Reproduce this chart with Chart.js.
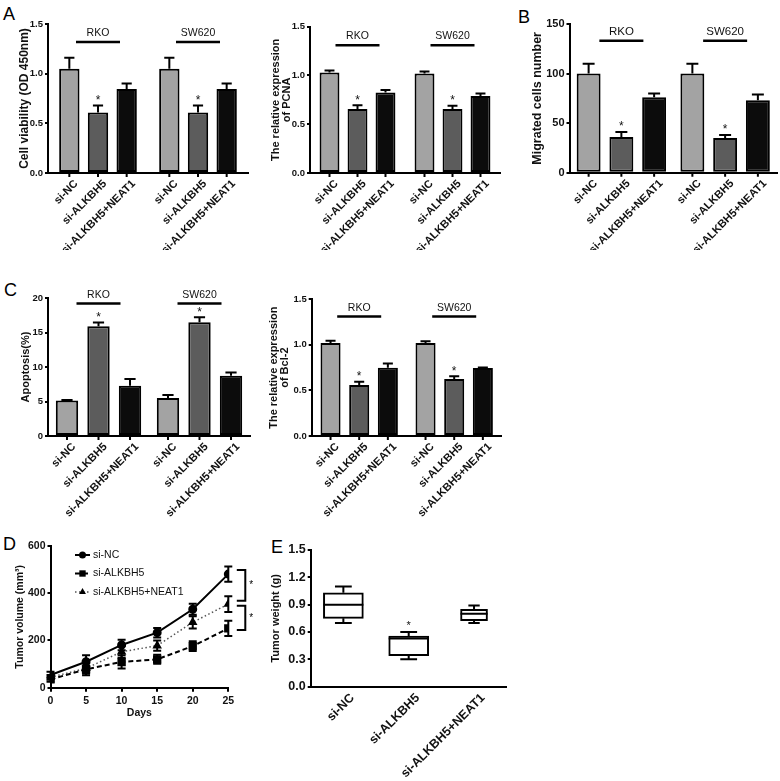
<!DOCTYPE html>
<html>
<head>
<meta charset="utf-8">
<title>ALKBH5 / NEAT1</title>
<script src="https://cdn.jsdelivr.net/npm/chart.js@4.4.1/dist/chart.umd.min.js"></script>
<style>
  body { margin: 0; background: #fff; }
  #fig { position: relative; width: 780px; height: 781px; overflow: hidden; background: #fff; }
  #fig canvas { position: absolute; }
  .tag { position: absolute; font: 18px "Liberation Sans", Arial, sans-serif; line-height: 18px; color: #000; }
</style>
</head>
<body>
<div id="fig">
  <div class="tag" style="left:3px;top:5px">A</div>
  <div class="tag" style="left:518px;top:8px">B</div>
  <div class="tag" style="left:4px;top:281px">C</div>
  <div class="tag" style="left:3px;top:535px">D</div>
  <div class="tag" style="left:271px;top:538px">E</div>
  <canvas id="viability" width="262" height="250" style="left:0;top:0"></canvas>
  <canvas id="pcna" width="262" height="250" style="left:262px;top:0"></canvas>
  <canvas id="migration" width="256" height="250" style="left:524px;top:0"></canvas>
  <canvas id="apoptosis" width="262" height="258" style="left:0;top:262px"></canvas>
  <canvas id="bcl2" width="262" height="258" style="left:262px;top:262px"></canvas>
  <canvas id="volume" width="262" height="251" style="left:0;top:530px"></canvas>
  <canvas id="weight" width="262" height="251" style="left:262px;top:530px"></canvas>
</div>
<script>
'use strict';

var WIDE = '"Liberation Sans", Arial, Helvetica, sans-serif';

// ---- data ----
var cellLines = ['RKO', 'SW620'];
var groups = ['si-NC', 'si-ALKBH5', 'si-ALKBH5+NEAT1'];
var starredGroup = 1; // * : si-ALKBH5 vs si-NC

// order: RKO (NC, ALKBH5, +NEAT1), SW620 (NC, ALKBH5, +NEAT1)
var viabilityMean = [1.05, 0.61, 0.845, 1.05, 0.61, 0.845];
var viabilitySD = [0.11, 0.07, 0.055, 0.11, 0.07, 0.055];
var pcnaMean = [1.03, 0.655, 0.825, 1.02, 0.655, 0.79];
var pcnaSD = [0.02, 0.04, 0.025, 0.02, 0.035, 0.025];
var migratedMean = [100, 36, 76, 100, 35, 73];
var migratedSD = [10, 5, 4, 10, 3, 6];
var apoptosisMean = [5.15, 15.9, 7.3, 5.5, 16.5, 8.75];
var apoptosisSD = [0.05, 0.55, 0.95, 0.45, 0.7, 0.45];
var bcl2Mean = [1.02, 0.56, 0.75, 1.02, 0.625, 0.745];
var bcl2SD = [0.025, 0.035, 0.045, 0.02, 0.03, 0.008];

// D: tumor volume (mm3) by day
var days = [0, 5, 10, 15, 20, 25];
var volNC = [54, 110, 181, 233, 332, 481];
var volNCSD = [14, 27, 22, 20, 23, 32];
var volKD = [35, 78, 109, 120, 176, 251];
var volKDSD = [10, 25, 28, 19, 21, 32];
var volRescue = [44, 82, 152, 178, 277, 354];
var volRescueSD = [10, 22, 25, 22, 26, 33];
var volBrackets = [[498, 368], [347, 244]];

// E: tumor weight (g)
var weightMin = [0.7, 0.3, 0.7];
var weightQ1 = [0.75, 0.34, 0.725];
var weightMedian = [0.9, 0.53, 0.8];
var weightQ3 = [1.03, 0.555, 0.85];
var weightMax = [1.1, 0.6, 0.89];

// ---- styles ----
var barFills = ['#a3a3a3', '#5c5c5c', '#0c0c0c'];
var boxWidths = [40, 40, 27];
var INK = '#111';

Chart.defaults.font.family = WIDE;
Chart.defaults.color = INK;

function barExtras(o) {
  return {
    id: 'barExtras',
    afterDatasetsDraw: function (chart) {
      var ctx = chart.ctx, ys = chart.scales.y, area = chart.chartArea;
      ctx.save();
      ctx.strokeStyle = '#000';
      ctx.fillStyle = INK;
      chart.data.datasets.forEach(function (ds, g) {
        chart.getDatasetMeta(g).data.forEach(function (bar, i) {
          var tip = ys.getPixelForValue(ds.data[i] + ds.sd[i]);
          var cap = bar.width / 4;
          ctx.lineWidth = 2;
          ctx.beginPath();
          ctx.moveTo(bar.x, bar.y);
          ctx.lineTo(bar.x, tip);
          ctx.moveTo(bar.x - cap, tip);
          ctx.lineTo(bar.x + cap, tip);
          ctx.moveTo(bar.x, area.bottom);
          ctx.lineTo(bar.x, area.bottom + 4);
          ctx.stroke();
          if (g === starredGroup) {
            ctx.font = '12px ' + WIDE;
            ctx.textAlign = 'center';
            ctx.textBaseline = 'middle';
            ctx.fillText('*', bar.x, tip - 5);
          }
          ctx.save();
          ctx.translate(bar.x + 7, area.bottom + 9);
          ctx.rotate(-Math.PI / 4);
          ctx.font = 'bold 11px ' + WIDE;
          ctx.textAlign = 'right';
          ctx.textBaseline = 'middle';
          ctx.fillText(ds.label, 0, 0);
          ctx.restore();
        });
      });
      // cell line headers over each group
      var first = chart.getDatasetMeta(0).data;
      var last = chart.getDatasetMeta(groups.length - 1).data;
      var hy = ys.getPixelForValue(o.header);
      cellLines.forEach(function (name, i) {
        var cx = (first[i].x + last[i].x) / 2;
        ctx.lineWidth = 2.5;
        ctx.beginPath();
        ctx.moveTo(cx - 22, hy);
        ctx.lineTo(cx + 22, hy);
        ctx.stroke();
        ctx.font = o.head + 'px ' + WIDE;
        ctx.textAlign = 'center';
        ctx.textBaseline = 'alphabetic';
        ctx.fillText(name, cx, hy - 6);
      });
      ctx.restore();
    }
  };
}

function barChart(id, mean, sd, o) {
  var datasets = groups.map(function (name, g) {
    var pick = function (arr) {
      return cellLines.map(function (c, i) { return arr[i * groups.length + g]; });
    };
    return {
      label: name,
      data: pick(mean),
      sd: pick(sd),
      backgroundColor: barFills[g],
      borderColor: '#000',
      borderWidth: 2,
      borderSkipped: false,
      categoryPercentage: o.cat,
      barPercentage: o.bar
    };
  });
  return new Chart(document.getElementById(id), {
    type: 'bar',
    data: { labels: cellLines, datasets: datasets },
    options: {
      responsive: false,
      animation: false,
      layout: { padding: { left: 0, top: o.top, right: o.right, bottom: 0 }, autoPadding: false },
      plugins: { legend: { display: false }, tooltip: { enabled: false } },
      scales: {
        x: {
          grid: { display: false },
          ticks: { display: false },
          border: { color: '#000', width: 2 },
          afterFit: function (s) { s.height = o.bottom; }
        },
        y: {
          min: 0,
          max: o.max,
          ticks: {
            stepSize: o.step,
            color: INK,
            padding: 2,
            font: { size: o.tick, weight: 'bold' },
            callback: function (v) { return v.toFixed(o.dec); }
          },
          grid: { drawOnChartArea: false, tickLength: 3, color: '#000', lineWidth: 2 },
          border: { color: '#000', width: 2 },
          title: {
            display: true,
            text: o.title,
            color: INK,
            font: { size: o.titleSize, weight: 'bold', lineHeight: o.titleLH },
            padding: { top: o.titlePad, bottom: 0 }
          },
          afterFit: function (s) { s.width = o.left; }
        }
      }
    },
    plugins: [barExtras(o)]
  });
}

barChart('viability', viabilityMean, viabilitySD, {
  top: 24, right: 14, bottom: 77, left: 48, max: 1.5, step: 0.5, dec: 1,
  title: 'Cell viability (OD 450nm)', titleSize: 12, titleLH: 1.1, titlePad: 18.5,
  cat: 0.86, bar: 0.71, header: 1.32, tick: 9.5, head: 10.5
});
barChart('pcna', pcnaMean, pcnaSD, {
  top: 26.7, right: 24, bottom: 77, left: 48, max: 1.5, step: 0.5, dec: 1,
  title: ['The relative expression', 'of PCNA'], titleSize: 11, titleLH: 1.0, titlePad: 8,
  cat: 0.884, bar: 0.71, header: 1.31, tick: 9.5, head: 10.5
});
barChart('migration', migratedMean, migratedSD, {
  top: 24, right: 3, bottom: 77.3, left: 45.5, max: 150, step: 50, dec: 0,
  title: 'Migrated cells number', titleSize: 12.5, titleLH: 1.1, titlePad: 7,
  cat: 0.947, bar: 0.73, header: 133, tick: 11, head: 11.5
});
barChart('apoptosis', apoptosisMean, apoptosisSD, {
  top: 36, right: 12, bottom: 84, left: 48, max: 20, step: 5, dec: 0,
  title: 'Apoptosis(%)', titleSize: 11, titleLH: 1.1, titlePad: 19.5,
  cat: 0.936, bar: 0.71, header: 19.2, tick: 9.5, head: 10.5
});
barChart('bcl2', bcl2Mean, bcl2SD, {
  top: 37.3, right: 22.3, bottom: 84, left: 49.7, max: 1.5, step: 0.5, dec: 1,
  title: ['The relative expression', 'of Bcl-2'], titleSize: 11, titleLH: 1.0, titlePad: 6.5,
  cat: 0.905, bar: 0.70, header: 1.31, tick: 9.5, head: 10.5
});

// ---- D: tumour growth curves ----
function series(vals) {
  return days.map(function (d, i) { return { x: d, y: vals[i] }; });
}

var volumeExtras = {
  id: 'volumeExtras',
  afterDatasetsDraw: function (chart) {
    var ctx = chart.ctx, ys = chart.scales.y, area = chart.chartArea;
    ctx.save();
    ctx.strokeStyle = '#000';
    ctx.fillStyle = '#000';
    ctx.lineWidth = 2;
    // error bars
    chart.data.datasets.forEach(function (ds, k) {
      chart.getDatasetMeta(k).data.forEach(function (pt, i) {
        var v = ds.data[i].y, lo = ys.getPixelForValue(v - ds.sd[i]), hi = ys.getPixelForValue(v + ds.sd[i]);
        ctx.beginPath();
        ctx.moveTo(pt.x, lo); ctx.lineTo(pt.x, hi);
        ctx.moveTo(pt.x - 4, lo); ctx.lineTo(pt.x + 4, lo);
        ctx.moveTo(pt.x - 4, hi); ctx.lineTo(pt.x + 4, hi);
        ctx.stroke();
      });
    });
    // significance brackets
    var bx = area.right + 17;
    volBrackets.forEach(function (b) {
      var y1 = ys.getPixelForValue(b[0]), y2 = ys.getPixelForValue(b[1]);
      ctx.beginPath();
      ctx.moveTo(bx - 8.5, y1); ctx.lineTo(bx, y1); ctx.lineTo(bx, y2); ctx.lineTo(bx - 8.5, y2);
      ctx.stroke();
      ctx.font = '10px ' + WIDE;
      ctx.textAlign = 'center';
      ctx.textBaseline = 'middle';
      ctx.fillText('*', bx + 6, (y1 + y2) / 2);
    });
    // legend
    chart.data.datasets.forEach(function (ds, k) {
      var ly = area.top + 9 + k * 18.5, lx = area.left + 24.5;
      ctx.save();
      ctx.strokeStyle = ds.borderColor;
      ctx.lineWidth = ds.borderWidth;
      ctx.setLineDash(ds.borderDash || []);
      ctx.beginPath();
      ctx.moveTo(lx, ly); ctx.lineTo(lx + 15, ly);
      ctx.stroke();
      ctx.restore();
      ctx.fillStyle = '#000';
      Chart.helpers.drawPoint(ctx, { pointStyle: ds.pointStyle, radius: ds.pointRadius, rotation: 0, borderWidth: 0 }, lx + 7.5, ly);
      ctx.fillStyle = INK;
      ctx.font = '10.5px ' + WIDE;
      ctx.textAlign = 'left';
      ctx.textBaseline = 'middle';
      ctx.fillText(ds.label, lx + 18, ly);
    });
    ctx.restore();
  }
};

new Chart(document.getElementById('volume'), {
  type: 'line',
  data: {
    datasets: [
      { label: groups[0], data: series(volNC), sd: volNCSD, borderColor: '#000', borderWidth: 2,
        pointStyle: 'circle', pointRadius: 3.5, pointBackgroundColor: '#000', pointBorderColor: '#000' },
      { label: groups[1], data: series(volKD), sd: volKDSD, borderColor: '#000', borderWidth: 2, borderDash: [5, 3],
        pointStyle: 'rect', pointRadius: 4.5, pointBackgroundColor: '#000', pointBorderColor: '#000' },
      { label: groups[2], data: series(volRescue), sd: volRescueSD, borderColor: '#555', borderWidth: 1.5, borderDash: [1.5, 2.5],
        pointStyle: 'triangle', pointRadius: 4, pointBackgroundColor: '#000', pointBorderColor: '#000' }
    ]
  },
  options: {
    responsive: false,
    animation: false,
    layout: { padding: { left: 0, top: 16, right: 33.7, bottom: 0 }, autoPadding: false },
    plugins: { legend: { display: false }, tooltip: { enabled: false } },
    scales: {
      x: {
        type: 'linear', min: 0, max: 25,
        ticks: { stepSize: 5, color: INK, padding: 3, font: { size: 10.5, weight: 'bold' } },
        grid: { drawOnChartArea: false, tickLength: 4, color: '#000', lineWidth: 2 },
        border: { color: '#000', width: 2 },
        title: { display: true, text: 'Days', color: INK, font: { size: 10.5, weight: 'bold' }, padding: { top: 0, bottom: 62 } },
        afterFit: function (s) { s.height = 93.3; }
      },
      y: {
        min: 0, max: 600,
        ticks: { stepSize: 200, color: INK, padding: 2, font: { size: 10.5, weight: 'bold' } },
        grid: { drawOnChartArea: false, tickLength: 3, color: '#000', lineWidth: 2 },
        border: { color: '#000', width: 2 },
        title: { display: true, text: 'Tumor volume (mm³)', color: INK, font: { size: 10.5, weight: 'bold' }, padding: { top: 14, bottom: 0 } },
        afterFit: function (s) { s.width = 50.5; }
      }
    }
  },
  plugins: [volumeExtras]
});

// ---- E: tumour weight box plot ----
var boxExtras = {
  id: 'boxExtras',
  afterDatasetsDraw: function (chart) {
    var ctx = chart.ctx, ys = chart.scales.y;
    ctx.save();
    ctx.strokeStyle = '#000';
    ctx.fillStyle = INK;
    ctx.lineWidth = 2;
    groups.forEach(function (name, g) {
      var box = chart.getDatasetMeta(g).data[g];
      var half = box.width / 2, cap = box.width * 0.21;
      var yMed = ys.getPixelForValue(weightMedian[g]);
      var yMin = ys.getPixelForValue(weightMin[g]), yMax = ys.getPixelForValue(weightMax[g]);
      var yQ1 = ys.getPixelForValue(weightQ1[g]), yQ3 = ys.getPixelForValue(weightQ3[g]);
      ctx.beginPath();
      ctx.moveTo(box.x - half, yMed); ctx.lineTo(box.x + half, yMed);
      ctx.moveTo(box.x, yQ3); ctx.lineTo(box.x, yMax);
      ctx.moveTo(box.x - cap, yMax); ctx.lineTo(box.x + cap, yMax);
      ctx.moveTo(box.x, yQ1); ctx.lineTo(box.x, yMin);
      ctx.moveTo(box.x - cap, yMin); ctx.lineTo(box.x + cap, yMin);
      ctx.stroke();
      if (g === starredGroup) {
        ctx.font = '11px ' + WIDE;
        ctx.textAlign = 'center';
        ctx.textBaseline = 'middle';
        ctx.fillText('*', box.x, yMax - 6);
      }
    });
    ctx.restore();
  }
};

new Chart(document.getElementById('weight'), {
  type: 'bar',
  data: {
    labels: groups,
    datasets: groups.map(function (name, g) {
      return {
        label: name,
        data: groups.map(function (n, j) { return j === g ? [weightQ1[g], weightQ3[g]] : null; }),
        backgroundColor: '#fff',
        borderColor: '#000',
        borderWidth: 2,
        borderSkipped: false,
        barThickness: boxWidths[g],
        grouped: false
      };
    })
  },
  options: {
    responsive: false,
    animation: false,
    layout: { padding: { left: 0, top: 20, right: 17.3, bottom: 0 }, autoPadding: false },
    plugins: { legend: { display: false }, tooltip: { enabled: false } },
    scales: {
      x: {
        grid: { display: false, drawTicks: false },
        ticks: { color: INK, padding: 4, labelOffset: 9, minRotation: 45, maxRotation: 45, font: { size: 12.5, weight: 'bold' } },
        border: { color: '#000', width: 2 },
        afterFit: function (s) { s.height = 94.3; }
      },
      y: {
        min: 0, max: 1.5,
        ticks: { stepSize: 0.3, color: INK, padding: 2, font: { size: 12.5, weight: 'bold' },
                 callback: function (v) { return v.toFixed(1); } },
        grid: { drawOnChartArea: false, tickLength: 3, color: '#000', lineWidth: 2 },
        border: { color: '#000', width: 2 },
        title: { display: true, text: 'Tumor weight (g)', color: INK, font: { size: 11, weight: 'bold' }, padding: { top: 7, bottom: 0 } },
        afterFit: function (s) { s.width = 48.7; }
      }
    }
  },
  plugins: [boxExtras]
});
</script>
</body>
</html>
